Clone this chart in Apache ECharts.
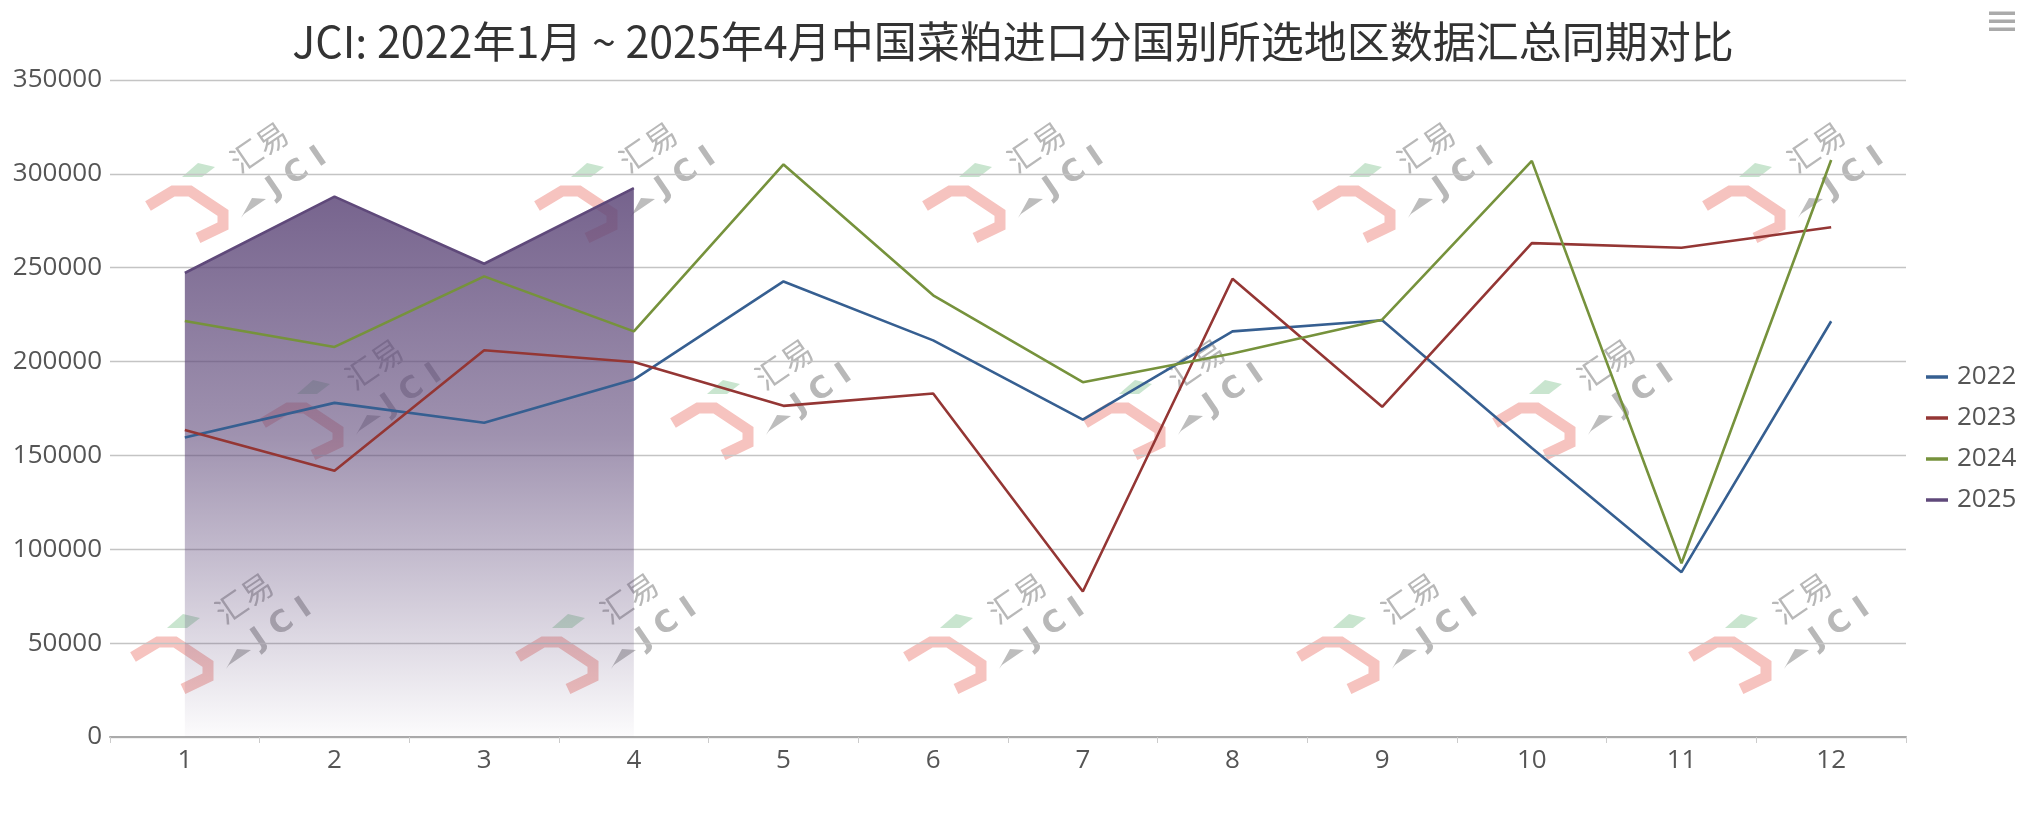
<!DOCTYPE html>
<html>
<head>
<meta charset="utf-8">
<script src="https://cdn.jsdelivr.net/npm/echarts@6/dist/echarts.min.js"></script>
<style>
html,body{margin:0;padding:0;background:#fff;}
#chart{width:2026px;height:816px;}
</style>
</head>
<body>
<div id="chart"></div>
<script>
const titleText = 'JCI: 2022年1月 ~ 2025年4月中国菜粕进口分国别所选地区数据汇总同期对比';
const months = ['1','2','3','4','5','6','7','8','9','10','11','12'];
const seriesNames = ['2022','2023','2024','2025'];
const data2022 = [159600, 178000, 167400, 190400, 242700, 211300, 169100, 216100, 222000, 154000, 87800, 221500];
const data2023 = [163500, 141800, 206000, 199800, 176400, 183000, 77500, 244100, 175900, 263100, 260600, 271600];
const data2024 = [221600, 207800, 245400, 216100, 305000, 235300, 189000, 204300, 222300, 306900, 92600, 307400];
const data2025 = [247200, 287900, 252100, 292400];
const yTicks = {min: 0, max: 350000, interval: 50000};

const colors = ['#365F91', '#943634', '#76923C', '#5F497A'];

// watermark logo origins (decoration)
const wmOrigins = [
  [173,191],[562,191],[950,191],[1340,191],[1730,191],
  [288,408],[698,408],[1110,408],[1520,408],
  [158,642],[543,642],[931,642],[1324,642],[1716,642]
];
function logo(o){
  return {
    type:'group', x:o[0], y:o[1], z:0, silent:true,
    children:[
      {type:'polyline', shape:{points:[[-25,15],[0,0],[17,0],[50,22],[50,35],[25,47]]},
        style:{stroke:'#f6c3bf', lineWidth:11, fill:null, lineJoin:'miter'}},
      {type:'polygon', shape:{points:[[9,-14],[25,-28],[42,-24],[29,-14]]}, style:{fill:'#c9e5cf'}},
      {type:'polygon', shape:{points:[[68,27],[79,7],[93,8],[71,23]]}, style:{fill:'#bdbdbd'}},
      {type:'text', x:86, y:-44, rotation:0.6,
        style:{text:'汇易', fill:'#b8b8b8', font:'31px "Noto Sans CJK SC"', align:'center', verticalAlign:'middle'}},
      {type:'text', x:124, y:-18, rotation:0.6,
        style:{text:'J C I', fill:'#b8b8b8', font:'bold 30px "DejaVu Sans"', align:'center', verticalAlign:'middle'}}
    ]
  };
}
const graphics = wmOrigins.map(logo);
// menu icon
[13,21,29].forEach(function(y){
  graphics.push({type:'rect', shape:{x:1989, y:y-1.5, width:26, height:3.5}, style:{fill:'#aaa'}, z:10});
});

const chart = echarts.init(document.getElementById('chart'), null, {renderer:'canvas'});
const makeLine = (name, data, color) => ({
  name, type:'line', data, symbol:'none', smooth:false,
  lineStyle:{color, width:2.6}, itemStyle:{color}
});
const s2025 = makeLine(seriesNames[3], data2025, colors[3]);
s2025.areaStyle = {
  opacity: 1,
  color: new echarts.graphic.LinearGradient(0,0,0,1,[
    {offset:0, color:'rgba(95,73,122,0.86)'},
    {offset:0.45, color:'rgba(95,73,122,0.6)'},
    {offset:1, color:'rgba(95,73,122,0.02)'}
  ])
};
chart.setOption({
  backgroundColor:'#fff',
  animation:false,
  title:{text:titleText, left:'center', top:15,
    textStyle:{fontFamily:'"Noto Sans CJK SC"', fontSize:43, fontWeight:'normal', color:'#333'}},
  grid:{left:110, right:120, top:80, bottom:79, containLabel:false},
  legend:{orient:'vertical', left:1921, top:359, itemWidth:22, itemHeight:3.5, icon:'rect', itemGap:15,
    data:seriesNames,
    textStyle:{fontFamily:'"Open Sans"', fontSize:26, color:'#555', lineHeight:26, padding:[0,0,0,4]}},
  xAxis:{type:'category', data:months, boundaryGap:true,
    axisLine:{lineStyle:{color:'#aaa', width:2}},
    axisTick:{show:true, length:6, lineStyle:{color:'#ccc'}},
    axisLabel:{fontFamily:'"Open Sans"', fontSize:26, color:'#555', margin:11}},
  yAxis:{type:'value', min:yTicks.min, max:yTicks.max, interval:yTicks.interval,
    axisLine:{show:false}, axisTick:{show:false},
    splitLine:{lineStyle:{color:'#c4c4c4', width:1.3}},
    axisLabel:{fontFamily:'"Open Sans"', fontSize:26, color:'#555', margin:8,
      formatter: function(v){ return String(v); }}},
  graphic: graphics,
  series:[
    makeLine(seriesNames[0], data2022, colors[0]),
    makeLine(seriesNames[1], data2023, colors[1]),
    makeLine(seriesNames[2], data2024, colors[2]),
    s2025
  ]
});
</script>
</body>
</html>
